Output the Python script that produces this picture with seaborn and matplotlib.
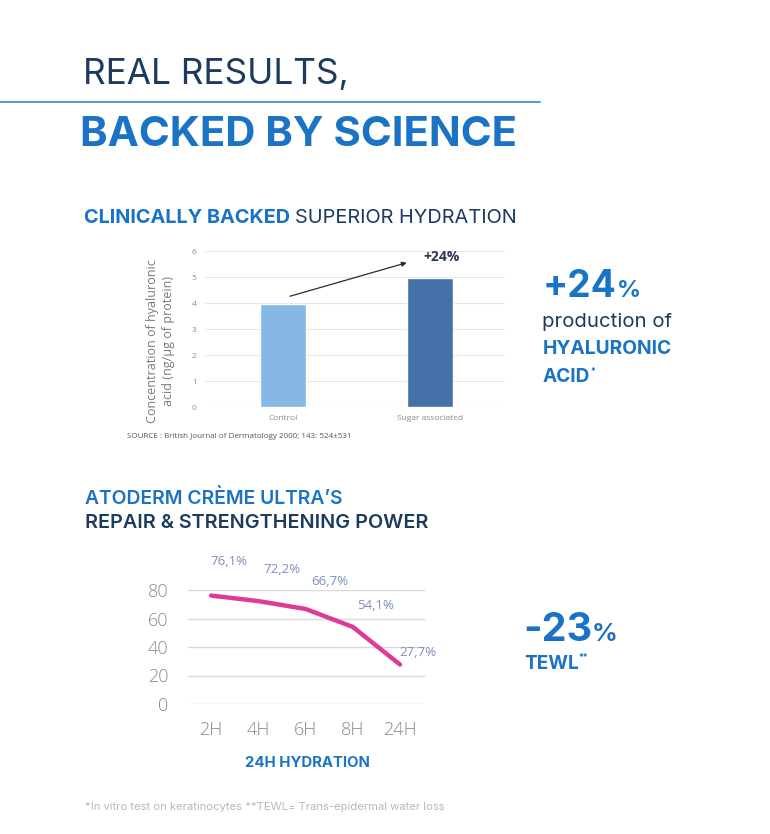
import matplotlib
matplotlib.use("Agg")
import matplotlib.pyplot as plt
import seaborn as sns
import pandas as pd

# bar chart data
bar_groups = ["Control", "Sugar associated"]
bar_values = [3.95, 4.95]
bar_colors = ["#85b9e3", "#4472a8"]

# line chart data
hours = ["2H", "4H", "6H", "8H", "24H"]
tewl = [76.1, 72.2, 66.7, 54.1, 27.7]
tewl_labels = ["76,1%", "72,2%", "66,7%", "54,1%", "27,7%"]

NAVY = "#1d3a5f"
BLUE = "#1a73c4"
PINK = "#dc3c97"
HEAD = ["Inter", "DejaVu Sans"]
BODY = ["Open Sans", "DejaVu Sans"]

sns.set_theme(style="white")
plt.rcParams["font.family"] = HEAD

W, H = 770, 834
fig = plt.figure(figsize=(W / 100, H / 100), dpi=100)
renderer = fig.canvas.get_renderer()


def fx(px):
    return px / W


def fy(py):
    return 1 - py / H


def text_run(x, y, parts, width=None):
    # pieces of text on one baseline; optionally scaled so the run spans `width` px
    texts = []
    for s, kw, rise in parts:
        texts.append((fig.text(0, 0, s, va="baseline", ha="left", **kw), rise))
    if width:
        total = sum(t.get_window_extent(renderer=renderer).width for t, _ in texts)
        k = width / total
        for t, _ in texts:
            t.set_fontsize(t.get_fontsize() * k)
    for t, rise in texts:
        t.set_position((fx(x), fy(y - rise)))
        x += t.get_window_extent(renderer=renderer).width
    return texts


def bold(size, color=BLUE, family=HEAD):
    return dict(fontsize=size, fontweight="bold", color=color, family=family)


def reg(size, color=NAVY, family=HEAD):
    return dict(fontsize=size, color=color, family=family)


# headings
text_run(83, 84, [("REAL RESULTS,", reg(23), 0)], width=265)
fig.add_artist(plt.Line2D([0, fx(540)], [fy(102), fy(102)], color="#4a90c8", lw=1.3))
text_run(80, 146, [("BACKED BY SCIENCE", bold(30), 0)], width=437)

text_run(84, 223, [("CLINICALLY BACKED ", bold(12.5), 0),
                   ("SUPERIOR HYDRATION", reg(12.5), 0)], width=433)

# bar chart
ax1 = fig.add_axes([fx(205), fy(407), fx(505) - fx(205), fy(251) - fy(407)])
df_bar = pd.DataFrame({"group": bar_groups, "value": bar_values})
sns.barplot(data=df_bar, x="group", y="value", hue="group", palette=bar_colors,
            saturation=1, width=0.31, legend=False, ax=ax1, zorder=3)
ax1.set_xlim(-0.53, 1.51)
ax1.set_ylim(0, 6)
ax1.set_yticks(range(7))
ax1.grid(axis="y", color="#e6e6e6", lw=0.8, zorder=0)
for s in ax1.spines.values():
    s.set_visible(False)
ax1.tick_params(axis="both", length=0, labelsize=6, labelcolor="#8a8a8a", pad=6)
for lbl in ax1.get_xticklabels() + ax1.get_yticklabels():
    lbl.set_family(BODY)
ax1.set_xlabel("")
ax1.set_ylabel("Concentration of hyaluronic\nacid (ng/\u03bcg of protein)", fontsize=9,
               color="#7a7a7a", family=BODY, linespacing=1.3)
ax1.yaxis.set_label_coords(-0.1, 0.42)
ax1.annotate("", xy=(0.86, 5.58), xytext=(0.03, 4.23),
             arrowprops=dict(arrowstyle="-|>", color="#2b2b3b", lw=0.9, mutation_scale=7))
ax1.text(1.08, 5.77, "+24%", fontsize=10, fontweight="bold", color="#2b3550",
         ha="center", va="center", family=BODY)

fig.text(fx(127), fy(436), "SOURCE : British Journal of Dermatology 2000; 143: 524\u00b1531",
         fontsize=5.8, color="#555555", va="center", family=BODY)

# right callout 1
text_run(543, 297, [("+24", bold(25), 0), ("%", bold(16), 0)], width=98)
text_run(542, 327, [("production of", reg(13), 0)], width=129)
text_run(543, 354, [("HYALURONIC", bold(13), 0)], width=130)
text_run(543, 382, [("ACID", bold(13.7), 0), ("*", bold(6), 8)])

# second section heading
text_run(85, 504, [("ATODERM CR\u00c8ME ULTRA\u2019S", dict(bold(12.5), fontweight="semibold"), 0)],
         width=258)
text_run(85, 528, [("REPAIR & STRENGTHENING POWER",
                    dict(bold(12.5, NAVY), fontweight="semibold"), 0)], width=342)

# line chart
ax2 = fig.add_axes([fx(188), fy(704), fx(425) - fx(188), fy(590) - fy(704)])
df_line = pd.DataFrame({"pos": range(len(hours)), "value": tewl})
sns.lineplot(data=df_line, x="pos", y="value", color=PINK, lw=3.2, ax=ax2, zorder=3)
ax2.set_xlim(-0.49, 4.53)
ax2.set_ylim(0, 80)
ax2.set_yticks([0, 20, 40, 60, 80])
ax2.set_xticks(range(len(hours)))
ax2.set_xticklabels(hours)
ax2.grid(axis="y", color="#d9d9d9", lw=1, zorder=0)
for s in ax2.spines.values():
    s.set_visible(False)
ax2.tick_params(axis="both", length=0, labelsize=13, labelcolor="#8a8a8a")
ax2.tick_params(axis="x", pad=12)
ax2.tick_params(axis="y", pad=14)
for lbl in ax2.get_xticklabels() + ax2.get_yticklabels():
    lbl.set_family(BODY)
    lbl.set_fontweight("light")
ax2.set_xlabel("")
ax2.set_ylabel("")
label_offsets = [(18, 34), (24, 32), (24, 27), (23, 21), (18, 12)]
for i, (v, s) in enumerate(zip(tewl, tewl_labels)):
    ax2.annotate(s, (i, v), xytext=label_offsets[i], textcoords="offset pixels",
                 ha="center", va="center", fontsize=9.5, color="#7d8fbf",
                 family=BODY, annotation_clip=False)

text_run(245, 767, [("24H HYDRATION", bold(10), 0)], width=125)

# right callout 2
text_run(523, 641, [("-23", bold(25), 0), ("%", bold(16), 0)], width=95)
text_run(524, 669, [("TEWL", bold(13.7), 0), ("**", bold(6), 9)])

text_run(85, 810, [("*In vitro test on keratinocytes **TEWL= Trans-epidermal water loss",
                    reg(6.5, "#b8b8b8"), 0)], width=362)

fig.savefig("out.png", dpi=100, facecolor="white")
